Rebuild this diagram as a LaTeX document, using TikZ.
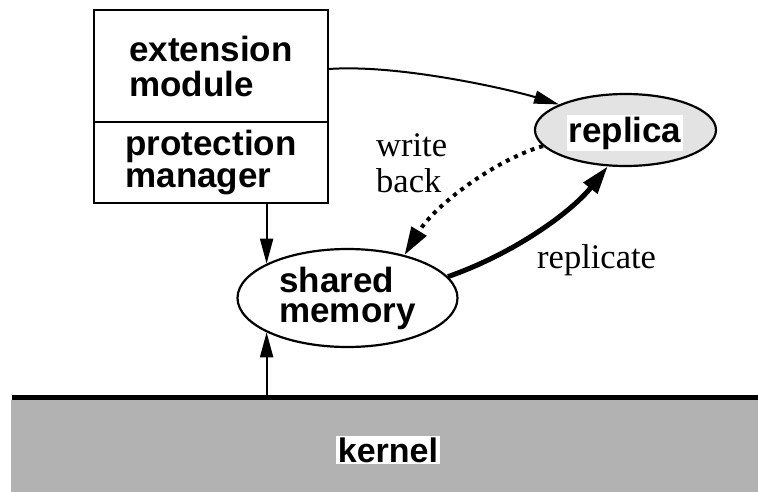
\documentclass[tikz,border=0pt]{standalone}
\usepackage{fontspec}
\setmainfont{Liberation Serif}
\newfontfamily\hv{Liberation Sans}
\usetikzlibrary{arrows.meta,shapes.geometric}
\definecolor{kgray}{HTML}{B2B2B2}
\definecolor{rgray}{HTML}{E3E3E3}
\tikzset{
  lbl/.style={font=\hv\bfseries\fontsize{35}{35}\selectfont, align=left},
  serifl/.style={font=\fontsize{34.5}{36}\selectfont, align=left, inner sep=0pt},
  boxpart/.style={draw, line width=2pt, rectangle, inner sep=0pt, lbl},
  oval/.style={draw, line width=2.2pt, ellipse, inner sep=0pt},
  thin/.style={line width=2pt, -{Triangle[length=25pt,width=13pt]}},
  thick/.style={line width=5pt, -{Triangle[length=28pt,width=17pt]}},
  dotl/.style={line width=4pt, dash pattern=on 4pt off 5pt, -{Triangle[length=28pt,width=17pt]}},
}
\begin{document}
\begin{tikzpicture}[x=1pt,y=-1pt]
\useasboundingbox (0,0) rectangle (758,492);
% kernel
\node[fill=kgray, minimum width=747pt, minimum height=92pt, inner sep=0pt] (kernel) at (384.5,446) {};
\draw[line width=5pt] (12,397.5) -- (758,397.5);
\coordinate (kline) at (12,395);
\node[fill=white, inner sep=2pt, font=\hv\bfseries\fontsize{34}{34}\selectfont] (klabel) at (388,450) {kernel};
% boxes
\node[boxpart, minimum width=234pt, minimum height=112pt, font=\hv\bfseries\fontsize{35}{35}\selectfont] (ext) at (211,66) {extension\\module};
\node[boxpart, minimum width=234pt, minimum height=81pt, font=\hv\bfseries\fontsize{35}{31.5}\selectfont] (prot) at (211,162.5) {protection\\manager};
% ellipses
\node[oval, minimum width=220pt, minimum height=98pt, lbl, font=\hv\bfseries\fontsize{35}{30}\selectfont] (shared) at (347.5,298) {shared\\memory};
\node[oval, fill=rgray, minimum width=181pt, minimum height=72pt] (replica) at (625.5,130) {};
\node[fill=white, inner sep=2pt, lbl] (rlabel) at (625,133) {replica};
% labels
\node[serifl, anchor=base west] (wb) at (376,157) {write};
\node[serifl, anchor=base west] (wb2) at (376,193) {back};
\node[serifl, anchor=base west] (rep) at (537,268) {replicate};
% connectors
\draw[thin] ([yshift=-3pt]ext.east) .. controls (400,64) and (512,90) .. (replica.159);
\draw[dotl] (replica.191) .. controls (495,160) and (435,205) .. (shared.37);
\draw[thick] (shared.12) .. controls (518,252) and (573,210) .. (replica.244);
\draw[thin] (prot.south -| shared.157) -- (shared.157);
\draw[thin] (kline -| shared.203) -- (shared.203);
\end{tikzpicture}
\end{document}
